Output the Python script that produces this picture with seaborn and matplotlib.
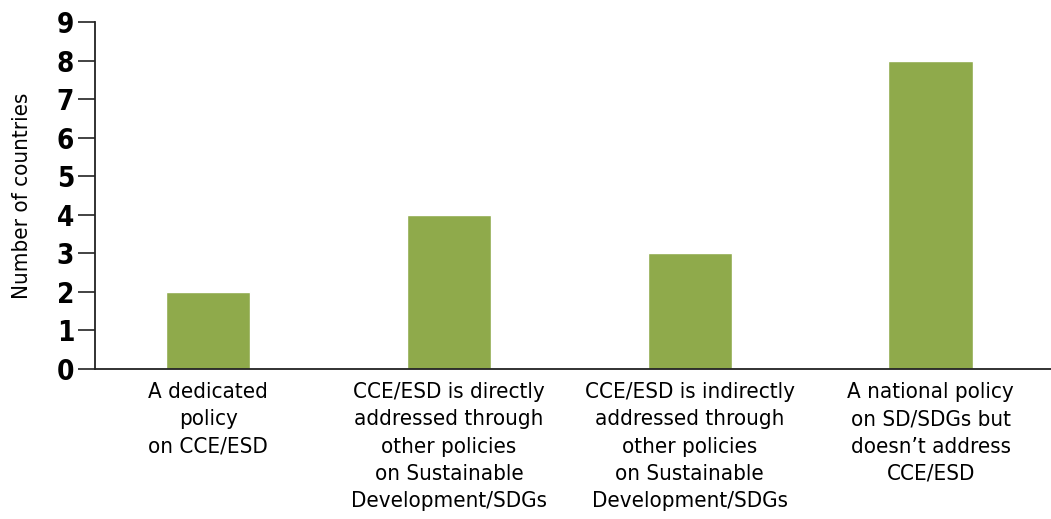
import matplotlib
matplotlib.use("Agg")
import matplotlib.pyplot as plt
import pandas as pd
import seaborn as sns

# Data
categories = [
    "A dedicated\npolicy\non CCE/ESD",
    "CCE/ESD is directly\naddressed through\nother policies\non Sustainable\nDevelopment/SDGs",
    "CCE/ESD is indirectly\naddressed through\nother policies\non Sustainable\nDevelopment/SDGs",
    "A national policy\non SD/SDGs but\ndoesn\u2019t address\nCCE/ESD",
]
countries = [2, 4, 3, 8]

df = pd.DataFrame({"category": categories, "countries": countries})

sns.set_style("white")
plt.rcParams['font.family'] = ['DejaVu Sans']
plt.rcParams['font.stretch'] = 'condensed'

fig = plt.figure(figsize=(10.51, 5.19), dpi=100)
ax = fig.add_axes([0.0904, 0.289, 0.9096, 0.6686])

sns.barplot(data=df, x="category", y="countries", color="#8faa4b",
            saturation=1, width=0.35, ax=ax)

ax.set_ylim(0, 9)
ax.set_xlim(-0.47, 3.5)
ax.set_yticks(range(10))
ax.set_xlabel("")
ax.set_ylabel("Number of countries", fontsize=16, labelpad=18, color='black')

ax.tick_params(axis='y', which='both', left=True, length=12, width=1.2,
               color='#222222', labelsize=20, pad=3, labelcolor='black')
ax.tick_params(axis='x', bottom=False, labelsize=16, pad=6, labelcolor='black')
for lbl in ax.get_yticklabels():
    lbl.set_fontweight('bold')
for lbl in ax.get_xticklabels():
    lbl.set_linespacing(1.45)

sns.despine(ax=ax, top=True, right=True)
for s in ['left', 'bottom']:
    ax.spines[s].set_color('#222222')
    ax.spines[s].set_linewidth(1.3)

fig.savefig("out.png", dpi=100)
